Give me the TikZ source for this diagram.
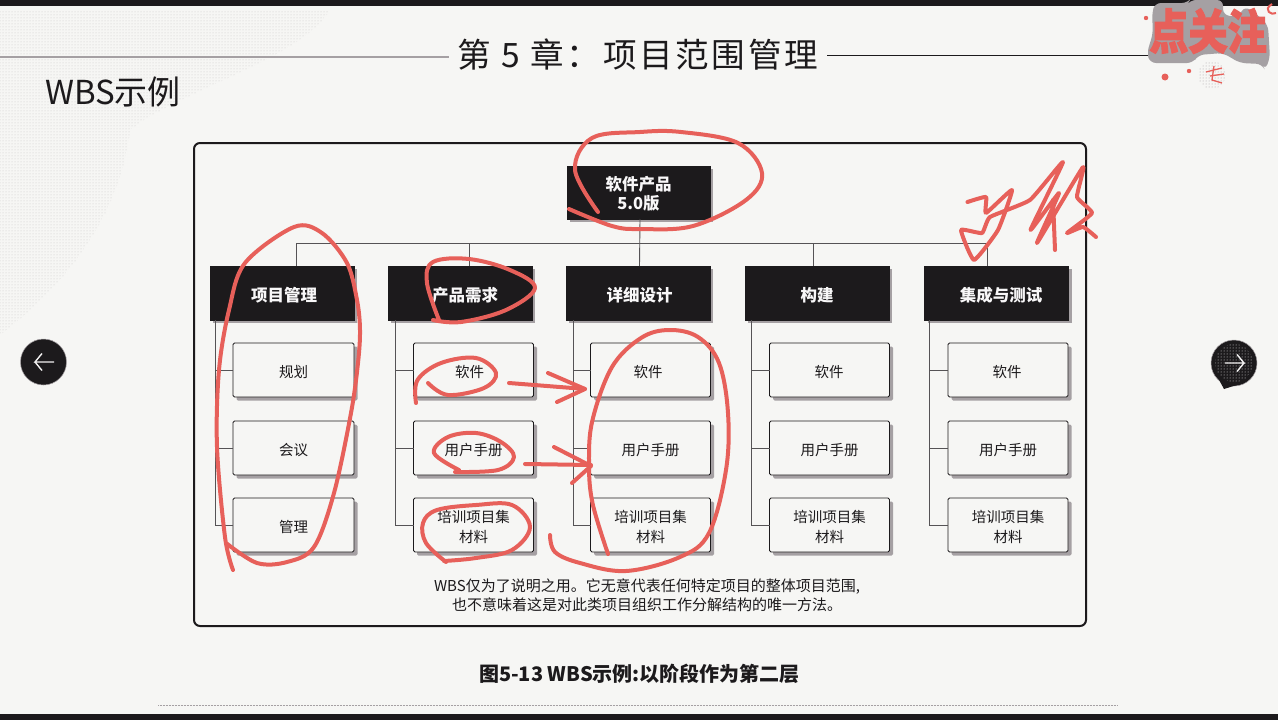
\documentclass[tikz,border=0pt]{standalone}
\usepackage{fontspec}
\setmainfont{Noto Sans CJK SC}
\usetikzlibrary{shadows,patterns}
\definecolor{bgc}{HTML}{F6F6F4}
\definecolor{inkc}{HTML}{1C1A1C}
\definecolor{shadec}{HTML}{A5A0A3}
\definecolor{redc}{HTML}{E7605A}
\tikzset{
  x=1pt,y=-1pt,
  hd/.style={draw=inkc,fill=inkc,text=white!92!shadec,rectangle,inner sep=0pt,outer sep=0pt,align=center,
     font=\fontsize{16.5}{19}\selectfont\bfseries,
     minimum height=54pt},
  lf/.style={draw=inkc,line width=.8pt,fill=bgc,text=inkc,rectangle,rounded corners=1.5pt,inner sep=0pt,outer sep=0pt,align=center,
     minimum height=54pt,
     font=\fontsize{14.5}{20}\selectfont,
     drop shadow={shadow xshift=3.5pt,shadow yshift=-3.5pt,fill=shadec,opacity=1}},
  hds/.style={hd,drop shadow={shadow xshift=3pt,shadow yshift=-3pt,fill=shadec,opacity=1}},
  wire/.style={draw=inkc!75!white,line width=.9pt},
  pen/.style={draw=redc,line width=4pt,line cap=round,line join=round},
  txt/.style={text=inkc,inner sep=0pt,outer sep=0pt,align=center},
  nav/.style={circle,fill=inkc,draw=shadec,line width=.5pt,minimum size=46pt,inner sep=0pt},
  navarrow/.style={draw=white!85!shadec,line width=1.4pt},
  logotext/.style={inner sep=0pt,font=\fontsize{38}{40}\selectfont\bfseries\addfontfeature{FakeBold=2.5},yscale=1.25,xscale=1.03,transform shape},
}
\begin{document}
\begin{tikzpicture}
\useasboundingbox (0,0) rectangle (1278,720);
\fill[bgc] (0,0) rectangle (1278,720);
% faint halftone of the slide corner
\fill[pattern=dots,pattern color=shadec!55!bgc] (0,10) -- (330,10) .. controls (300,60) and (180,90) .. (130,130) .. controls (120,220) and (60,290) .. (0,335) -- cycle;
\fill[inkc] (0,0) rectangle (1278,6);
\fill[inkc] (0,714) rectangle (1278,720);
\draw[shadec,line width=.5pt,densely dotted] (158,705) -- (1118,705);

% title
\node[txt,font=\fontsize{33.6}{36}\selectfont\addfontfeature{LetterSpace=8}] (title) at (638,55) {第 5 章：项目范围管理};
\coordinate (tl) at (0,57);
\coordinate (tlr) at (449,57);
\coordinate (trl) at (827,55);
\coordinate (tr) at (1150,55);
\draw[shadec,line width=1.6pt] (tl) -- (tlr);
\draw[inkc,line width=.7pt] (trl) -- (tr);
\node[txt,font=\fontsize{33}{36}\selectfont] (sub) at (113,92) {WBS示例};

% frame
\node[draw=inkc,line width=2pt,rounded corners=6pt,minimum width=892pt,minimum height=483pt,inner sep=0pt] (frame) at (640,384.5) {};

% top box
\node[hds,minimum width=143pt,minimum height=53pt] (root) at (638.5,192.5) {\rule{0pt}{17pt}软件产品\\5.0版};

% phase boxes
\node[hds,minimum width=144pt] (p1) at (282,293) {\rule{0pt}{18pt}\hspace*{4pt}项目管理};
\node[hds,minimum width=144pt] (p2) at (460,293) {\rule{0pt}{18pt}\hspace*{10pt}产品需求};
\node[hds,minimum width=144pt] (p3) at (638,293) {\rule{0pt}{18pt}\hspace*{3pt}详细设计};
\node[hds,minimum width=144pt] (p4) at (817,293) {\rule{0pt}{18pt}构建};
\node[hds,minimum width=144pt] (p5) at (996.5,293) {\rule{0pt}{18pt}\hspace*{9pt}集成与测试};

% leaves
\node[lf,minimum width=121pt] (a1) at (293.5,370) {\rule{0pt}{16.5pt}规划};
\node[lf,minimum width=121pt] (a2) at (293.5,448) {\rule{0pt}{16.5pt}会议};
\node[lf,minimum width=121pt] (a3) at (293.5,525) {\rule{0pt}{16.5pt}管理};
\foreach \c/\cx/\s in {b/473.5/-8pt,c/650.5/-5pt,d/829.5/-1pt,e/1008/-2pt}{
  \node[lf,minimum width=120pt] (\c1) at (\cx,370) {\rule{0pt}{16.5pt}\hspace*{\s}软件};
  \node[lf,minimum width=120pt] (\c2) at (\cx,448) {\rule{0pt}{16.5pt}用户手册};
  \node[lf,minimum width=120pt] (\c3) at (\cx,525) {\rule{0pt}{17pt}培训项目集\\材料};
}

% bus
\coordinate (t1) at (296,266);
\coordinate (t2) at (469,266);
\coordinate (t4) at (813,266);
\coordinate (t5) at (987,266);
\coordinate (bl) at (296,243.5);
\coordinate (bm) at (469,243.5);
\coordinate (bn) at (813,243.5);
\coordinate (br) at (987,243.5);
\draw[wire] (bl) -- (br);
\draw[wire] (bl) -- (t1);
\draw[wire] (bm) -- (t2);
\draw[wire] (bn) -- (t4);
\draw[wire] (br) -- (t5);
\draw[wire] ([xshift=1.5pt]root.south) -- ([xshift=1.5pt]p3.north);

% spines
\foreach \c/\p/\sx in {a/p1/215,b/p2/395,c/p3/573,d/p4/751,e/p5/929}{
  \coordinate (s\c) at (\sx,320);
  \draw[wire] (s\c) |- (\c3.west);
  \draw[wire] (s\c |- \c1.west) -- (\c1.west);
  \draw[wire] (s\c |- \c2.west) -- (\c2.west);
}

% note and caption
\node[txt,font=\fontsize{15}{19}\selectfont] (note) at (647,595) {WBS仅为了说明之用。它无意代表任何特定项目的整体项目范围,\\也不意味着这是对此类项目组织工作分解结构的唯一方法。};
\node[txt,font=\fontsize{20}{22}\selectfont\bfseries] (cap) at (639.5,674) {图5-13 WBS示例:以阶段作为第二层};

% nav buttons
\node[nav] (prev) at (43.5,362) {};
\coordinate (pa) at (54,362); \coordinate (pb) at (35,362);
\draw[navarrow] (pa) -- (pb) -- ++(7,-8.5) (pb) -- ++(7,8.5);
\node[nav] (next) at (1234,363) {};
\fill[inkc] (1218,378) -- (1224,389) -- (1240,384) -- cycle;
\fill[pattern=dots,pattern color=white!70!shadec] (next.center) circle (19);
\coordinate (na) at (1225,363); \coordinate (nb) at (1244,363);
\draw[navarrow] (na) -- (nb) -- ++(-7,-8.5) (nb) -- ++(-7,8.5);

% hand annotations
\draw[pen] plot[smooth,tension=.6] coordinates {(598,212) (575,170) (592,138) (640,132) (681,132) (738,143) (762,173) (746,200) (693,226) (640,229) (612,226) (569,209)};
\draw[pen] plot[smooth,tension=.55] coordinates {(233,570) (225,537) (217,447) (219,370) (229,310) (245,263) (294,227) (322,233) (347,263) (357,300) (360,330) (358,363) (351,413) (334,493) (314,547) (287,562) (257,563) (226,543)};
\draw[pen] plot[smooth,tension=.6] coordinates {(439,320) (427,283) (433,262) (469,259) (510,270) (535,288) (506,310) (461,322) (433,320)};
\draw[pen] plot[smooth,tension=.6] coordinates {(416,403) (417.5,380) (441,363) (476,358) (496,373) (484,388) (448,395) (428,383)};
\draw[pen] plot[smooth,tension=.6] coordinates {(459,470) (434,453) (448,437) (476,433) (501,442) (514,457) (498,470) (455,472)};
\draw[pen] plot[smooth,tension=.6] coordinates {(446,562) (426,543) (423,523) (437,510) (476,505) (512,505) (530,527) (512,550) (476,558) (444,561)};
\draw[pen] plot[smooth,tension=.6] coordinates {(608,554) (592.5,503) (589,463) (592.5,420) (612,367) (641,338) (669,330) (698,337) (719,363) (728,413) (726,470) (709,533) (680,557) (626,571) (580,563) (555,552) (550,535)};
\draw[pen] (509,383) -- (585,389);
\draw[pen] (548,373) -- (585,389) -- (557,402);
\draw[pen] (525,464) -- (591,465);
\draw[pen] (554,447) -- (591,466) -- (572,483);
\draw[pen] plot[smooth,tension=.25] coordinates {(967.5,202) (986,197) (986,213) (1012,190) (998,230) (974,260) (961,230) (982,233) (990,217) (1030,200) (1063,162) (1030.5,230) (1059,193) (1037,243) (1083,167) (1077,197) (1092,213) (1067,233) (1083,227) (1096,237)};
\draw[pen] (1055,250) -- (1053,200);

% logo
\fill[shadec,rounded corners=6pt] (1155,3) -- (1188,3) -- (1190,0) -- (1223,0) -- (1223,15) -- (1238,17) -- (1245,6) -- (1260,17) -- (1268,25) -- (1270,58) -- (1265,70) -- (1262,64) -- (1240,63) -- (1223,53) -- (1198,55) -- (1193,63) -- (1150,63) -- (1147,53) -- (1153,33) -- (1152,13) -- cycle;
\node[logotext,text=redc] (logo) at (1208,31) {点关注};
\fill[redc] (1146,18) circle (2.2) (1189,71) circle (2.2) (1165,77) circle (3.5);
\fill[pattern=dots,pattern color=shadec] (1212,75) ellipse (14 and 14);
\draw[redc,line width=1.3pt] (1206,72) -- (1222,68) (1210,76) -- (1224,74) (1214,66) -- (1212,80) -- (1222,83);
\draw[redc,line width=2pt] (1272,4) .. controls (1262,10) and (1272,16) .. (1276,13);
\end{tikzpicture}
\end{document}
